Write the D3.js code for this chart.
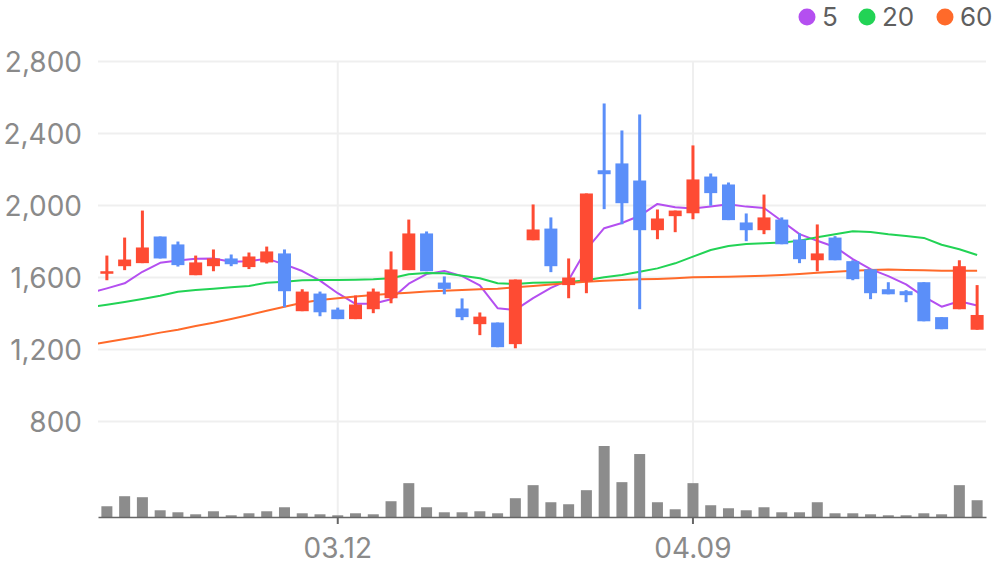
<!DOCTYPE html>
<html>
<head>
<meta charset="utf-8">
<script src="https://cdn.jsdelivr.net/npm/d3@7"></script>
<style>
  html, body { margin: 0; padding: 0; background: #fff; }
  svg { display: block; font-family: Inter, "Liberation Sans", sans-serif; }
</style>
</head>
<body>
<div id="chart"></div>
<script>
// trading days shown (MM.DD)
const dates = ["02.21","02.22","02.23","02.26","02.27","02.28","02.29","03.04","03.05","03.06",
  "03.07","03.08","03.11","03.12","03.13","03.14","03.15","03.18","03.19","03.20",
  "03.21","03.22","03.25","03.26","03.27","03.28","03.29","04.01","04.02","04.03",
  "04.04","04.05","04.08","04.09","04.11","04.12","04.15","04.16","04.17","04.18",
  "04.19","04.22","04.23","04.24","04.25","04.26","04.29","04.30","05.02","05.03"];

const opens = [1618,1660,1677,1825,1781,1610,1660,1703,1655,1681,
  1731,1410,1508,1419,1366,1421,1482,1638,1842,1569,
  1425,1338,1347,1227,1804,1869,1555,1575,2193,2231,
  2136,1860,1938,1954,2158,2114,1903,1860,1919,1808,
  1693,1819,1688,1643,1532,1521,1571,1377,1421,1307];
const highs = [1719,1819,1969,1825,1797,1719,1753,1725,1736,1769,
  1753,1532,1519,1430,1497,1536,1742,1919,1853,1603,
  1481,1403,1347,1586,2003,1931,1703,2064,2564,2414,
  2503,1975,1969,2331,2175,2125,1953,2058,1931,1843,
  1892,1827,1693,1643,1571,1527,1571,1377,1693,1555];
const lows = [1582,1638,1677,1703,1658,1610,1632,1660,1644,1675,
  1432,1410,1382,1366,1366,1399,1454,1638,1632,1504,
  1360,1277,1210,1204,1804,1627,1482,1510,1977,1893,
  1421,1810,1849,1921,1996,1916,1799,1838,1782,1677,
  1632,1693,1582,1477,1504,1460,1354,1310,1421,1307];
const closes = [1632,1697,1764,1703,1666,1681,1703,1671,1714,1742,
  1521,1519,1404,1366,1447,1519,1642,1842,1632,1534,
  1377,1380,1210,1586,1864,1660,1597,2064,2171,2010,
  1860,1925,1969,2142,2066,1916,1860,1931,1782,1699,
  1731,1693,1588,1510,1504,1499,1354,1310,1660,1389];

// volume, thousand shares
const volumes = [107,207,197,67,47,27,57,17,37,57,
  97,37,27,17,37,27,157,337,97,47,
  47,57,37,187,317,147,127,267,707,347,
  627,147,77,337,117,87,67,97,47,47,
  147,37,37,27,17,17,37,27,317,167];

// moving averages as shown
const ma5 = [1537,1565,1629,1679,1692,1702,1703,1685,1687,1702,
  1670,1633,1580,1510,1451,1451,1476,1563,1616,1634,
  1605,1553,1427,1417,1483,1540,1583,1754,1871,1900,
  1940,2006,1987,1981,1992,2004,1991,1983,1911,1838,
  1801,1767,1699,1644,1605,1559,1491,1435,1465,1442];
const ma20 = [1446,1461,1478,1496,1518,1528,1535,1543,1550,1568,
  1574,1582,1583,1583,1585,1587,1593,1615,1622,1621,
  1607,1593,1565,1561,1568,1570,1572,1582,1598,1611,
  1629,1648,1676,1713,1750,1772,1783,1787,1791,1802,
  1821,1837,1854,1850,1837,1828,1817,1779,1754,1722];
const ma60 = [1239,1256,1272,1291,1307,1328,1346,1367,1389,1413,
  1435,1457,1472,1482,1491,1500,1507,1513,1520,1524,
  1528,1532,1535,1543,1550,1559,1567,1574,1579,1583,
  1587,1589,1593,1598,1600,1602,1604,1607,1611,1617,
  1624,1629,1635,1639,1641,1639,1637,1635,1635,1635];
// MA values of the day before the first visible day (line runs in from the left edge)
const maPrev = [1510, 1432, 1223];

const maNames = ["5", "20", "60"];
const maColors = ["#b44ff0", "#22d355", "#ff6a2a"];
const yTicks = [800, 1200, 1600, 2000, 2400, 2800];
const xTicks = ["03.12", "04.09"];

const width = 996, height = 567;
const left = 98, right = 986, priceTop = 61, priceBottom = 421, volTop = 446, volBottom = 517;
const upColor = "#fe4b33", downColor = "#5b8ff9";

const svg = d3.select("#chart").append("svg")
  .attr("width", width)
  .attr("height", height);

const x = d3.scaleBand().domain(dates).range([left, right]).padding(0);
const step = x.step();
const cx = (i) => x(dates[i]) + x.bandwidth() / 2;

const y = d3.scaleLinear().domain([800, 2800]).range([priceBottom, priceTop]);
const yVol = d3.scaleLinear().domain([0, d3.max(volumes)]).range([volBottom, volTop]);

// horizontal grid + y labels
const yAxis = svg.append("g")
  .attr("transform", `translate(${left},0)`)
  .call(d3.axisLeft(y).tickValues(yTicks).tickSize(-(right - left)).tickPadding(16).tickFormat(d3.format(",")));
yAxis.select(".domain").remove();
yAxis.selectAll(".tick line").attr("stroke", "#efefef").attr("stroke-width", 2);
yAxis.selectAll(".tick text")
  .attr("fill", "#8a8a8a")
  .attr("font-size", 28)
  .attr("font-family", "Inter, 'Liberation Sans', sans-serif")
  .attr("dy", "0.36em");

// vertical grid at labelled dates
svg.append("g")
  .selectAll("line")
  .data(xTicks)
  .join("line")
  .attr("x1", (d) => x(d) + x.bandwidth() / 2)
  .attr("x2", (d) => x(d) + x.bandwidth() / 2)
  .attr("y1", priceTop)
  .attr("y2", volBottom)
  .attr("stroke", "#efefef")
  .attr("stroke-width", 2);

// volume bars
svg.append("g")
  .selectAll("rect")
  .data(volumes)
  .join("rect")
  .attr("x", (d, i) => cx(i) - 5.5)
  .attr("width", 11)
  .attr("y", (d) => yVol(d))
  .attr("height", (d) => volBottom - yVol(d))
  .attr("fill", "#8c8c8c");

// x axis
const xAxis = svg.append("g")
  .attr("transform", `translate(0,${volBottom})`)
  .call(d3.axisBottom(x).tickValues(xTicks).tickSize(7).tickSizeOuter(0).tickPadding(14));
xAxis.select(".domain").attr("stroke", "#666").attr("stroke-width", 1.5);
xAxis.selectAll(".tick line").attr("stroke", "#666").attr("stroke-width", 2);
xAxis.selectAll(".tick text")
  .attr("fill", "#8a8a8a")
  .attr("font-size", 28)
  .attr("font-family", "Inter, 'Liberation Sans', sans-serif");

// moving average lines, clipped to the plot
svg.append("clipPath").attr("id", "plot-clip")
  .append("rect")
  .attr("x", left).attr("y", priceTop)
  .attr("width", right - left).attr("height", volBottom - priceTop);

const line = d3.line().x((d) => d[0]).y((d) => y(d[1]));
const maSeries = [ma5, ma20, ma60];
svg.append("g")
  .attr("clip-path", "url(#plot-clip)")
  .attr("fill", "none")
  .selectAll("path")
  .data(maSeries)
  .join("path")
  .attr("d", (vals, k) => line([[cx(0) - step, maPrev[k]], ...vals.map((v, i) => [cx(i), v])]))
  .attr("stroke", (d, k) => maColors[k])
  .attr("stroke-width", 2)
  .attr("stroke-linejoin", "round");

// candles
const candle = svg.append("g")
  .selectAll("g")
  .data(dates.map((d, i) => i))
  .join("g")
  .attr("fill", (i) => (closes[i] >= opens[i] ? upColor : downColor));

candle.append("rect")
  .attr("x", (i) => cx(i) - 1.5)
  .attr("width", 3)
  .attr("y", (i) => y(highs[i]))
  .attr("height", (i) => Math.max(1, y(lows[i]) - y(highs[i])));

candle.append("rect")
  .attr("x", (i) => cx(i) - 6.5)
  .attr("width", 13)
  .attr("y", (i) => y(Math.max(opens[i], closes[i])))
  .attr("height", (i) => Math.max(1.5, Math.abs(y(opens[i]) - y(closes[i]))));

// legend
const legendX = [807, 867, 945];
const legend = svg.append("g")
  .selectAll("g")
  .data(maNames)
  .join("g")
  .attr("transform", (d, k) => `translate(${legendX[k]},17)`);
legend.append("circle").attr("r", 8.5).attr("fill", (d, k) => maColors[k]);
legend.append("text")
  .attr("x", 15)
  .attr("y", 9)
  .attr("font-size", 26)
  .attr("fill", "#5f5f5f")
  .text((d) => d);
</script>
</body>
</html>
